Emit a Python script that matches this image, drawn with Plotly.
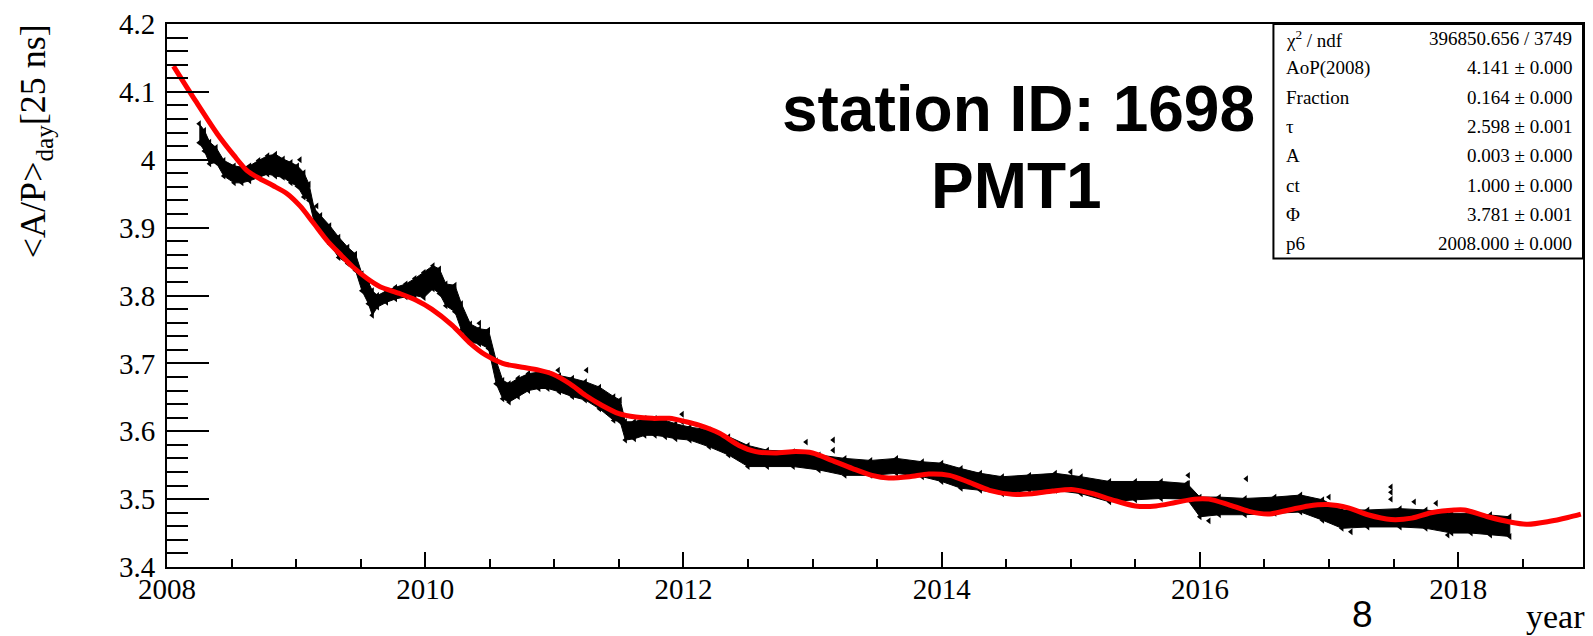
import plotly.graph_objects as go

# ---------------- data ----------------
# daily <A/P> band: sampled time (year) with lower / upper edge of the point cloud
t_band = [2008.25, 2008.29, 2008.33, 2008.38, 2008.44, 2008.52, 2008.58, 2008.64, 2008.71, 2008.78,
          2008.84, 2008.90, 2008.96, 2009.01, 2009.06, 2009.10, 2009.14, 2009.19, 2009.26, 2009.33,
          2009.40, 2009.46, 2009.51, 2009.56, 2009.59, 2009.63, 2009.70, 2009.77, 2009.85, 2009.92,
          2009.99, 2010.06, 2010.11, 2010.16, 2010.23, 2010.28, 2010.35, 2010.42, 2010.49, 2010.55,
          2010.60, 2010.65, 2010.72, 2010.80, 2010.88, 2010.95, 2011.04, 2011.14, 2011.24, 2011.35,
          2011.46, 2011.51, 2011.55, 2011.62, 2011.70, 2011.78, 2011.86, 2011.94, 2012.05, 2012.20,
          2012.35, 2012.50, 2012.65, 2012.85, 2013.05, 2013.25, 2013.45, 2013.65, 2013.85, 2014.00,
          2014.15, 2014.30, 2014.47, 2014.68, 2014.88, 2015.08, 2015.30, 2015.50, 2015.70, 2015.90,
          2016.00, 2016.15, 2016.35, 2016.58, 2016.78, 2016.95, 2017.10, 2017.30, 2017.55, 2017.75,
          2017.95, 2018.10, 2018.25, 2018.40]
ap_hi = [4.053, 4.043, 4.026, 4.018, 3.999, 3.991, 3.989, 3.991, 3.999, 4.006,
         4.008, 4.001, 3.996, 3.991, 3.981, 3.964, 3.928, 3.918, 3.903, 3.886,
         3.871, 3.861, 3.832, 3.820, 3.807, 3.800, 3.807, 3.812, 3.817, 3.825,
         3.834, 3.844, 3.839, 3.817, 3.815, 3.788, 3.758, 3.751, 3.749, 3.704,
         3.675, 3.670, 3.678, 3.685, 3.687, 3.685, 3.682, 3.678, 3.673, 3.665,
         3.651, 3.646, 3.614, 3.614, 3.619, 3.619, 3.616, 3.611, 3.606, 3.602,
         3.592, 3.579, 3.572, 3.570, 3.565, 3.560, 3.557, 3.560, 3.555, 3.553,
         3.545, 3.538, 3.533, 3.535, 3.538, 3.533, 3.526, 3.526, 3.526, 3.523,
         3.503, 3.503, 3.501, 3.503, 3.506, 3.499, 3.484, 3.484, 3.486, 3.484,
         3.479, 3.479, 3.477, 3.474]
ap_lo = [4.025, 4.013, 3.994, 3.996, 3.976, 3.966, 3.966, 3.969, 3.974, 3.979,
         3.976, 3.974, 3.966, 3.961, 3.945, 3.940, 3.908, 3.896, 3.876, 3.856,
         3.847, 3.837, 3.807, 3.788, 3.771, 3.783, 3.790, 3.795, 3.798, 3.800,
         3.797, 3.810, 3.803, 3.785, 3.776, 3.749, 3.731, 3.729, 3.722, 3.670,
         3.648, 3.643, 3.651, 3.660, 3.663, 3.663, 3.658, 3.651, 3.646, 3.633,
         3.616, 3.614, 3.587, 3.589, 3.594, 3.594, 3.592, 3.589, 3.587, 3.577,
         3.565, 3.548, 3.548, 3.548, 3.543, 3.535, 3.535, 3.538, 3.533, 3.526,
         3.516, 3.513, 3.508, 3.513, 3.513, 3.508, 3.496, 3.499, 3.501, 3.500,
         3.474, 3.477, 3.477, 3.479, 3.481, 3.469, 3.457, 3.459, 3.459, 3.457,
         3.450, 3.450, 3.447, 3.445]

# isolated daily values away from the main band
t_out = [2009.03, 2009.16, 2010.42, 2011.03, 2011.25, 2011.99, 2011.99, 2012.95, 2013.16, 2013.16,
         2015.00, 2015.91, 2015.91, 2016.36, 2017.00, 2017.48, 2017.48, 2017.48, 2017.66, 2017.83,
         2016.07, 2017.17, 2017.92]
ap_out = [4.000, 3.932, 3.759, 3.690, 3.690, 3.625, 3.614, 3.584, 3.587, 3.572,
          3.540, 3.535, 3.523, 3.530, 3.503, 3.518, 3.510, 3.500, 3.496, 3.494,
          3.468, 3.452, 3.447]

# fitted model curve
t_fit = [2008.05, 2008.22, 2008.39, 2008.52, 2008.62, 2008.72, 2008.82, 2008.93, 2009.03, 2009.13,
         2009.24, 2009.34, 2009.44, 2009.55, 2009.65, 2009.80, 2009.93, 2010.05, 2010.21, 2010.34,
         2010.47, 2010.60, 2010.73, 2010.88, 2010.99, 2011.12, 2011.24, 2011.37, 2011.50, 2011.63,
         2011.76, 2011.89, 2012.02, 2012.12, 2012.28, 2012.43, 2012.56, 2012.71, 2012.87, 2013.00,
         2013.15, 2013.31, 2013.46, 2013.59, 2013.75, 2013.90, 2014.06, 2014.21, 2014.37, 2014.55,
         2014.70, 2014.86, 2015.02, 2015.17, 2015.32, 2015.50, 2015.66, 2015.81, 2015.96, 2016.07,
         2016.22, 2016.38, 2016.53, 2016.69, 2016.84, 2016.99, 2017.15, 2017.30, 2017.48, 2017.64,
         2017.79, 2017.97, 2018.05, 2018.23, 2018.41, 2018.54, 2018.70, 2018.85, 2018.95]
ap_fit = [4.138, 4.087, 4.038, 4.006, 3.984, 3.972, 3.962, 3.950, 3.932, 3.908,
          3.881, 3.861, 3.842, 3.825, 3.813, 3.803, 3.793, 3.780, 3.756, 3.731,
          3.712, 3.700, 3.695, 3.690, 3.684, 3.670, 3.653, 3.638, 3.626, 3.621,
          3.619, 3.619, 3.614, 3.609, 3.597, 3.579, 3.570, 3.568, 3.570, 3.568,
          3.557, 3.545, 3.535, 3.531, 3.533, 3.537, 3.535, 3.525, 3.513, 3.507,
          3.508, 3.512, 3.514, 3.508, 3.499, 3.490, 3.490, 3.495, 3.500, 3.500,
          3.492, 3.482, 3.478, 3.484, 3.490, 3.492, 3.487, 3.477, 3.470, 3.472,
          3.480, 3.484, 3.484, 3.474, 3.466, 3.463, 3.467, 3.473, 3.478]

# fit statistics box
stat_names = ["χ<sup>2</sup> / ndf", "AoP(2008)", "Fraction", "τ", "A", "ct", "Φ", "p6"]
stat_values = ["396850.656 / 3749", "4.141 ± 0.000", "0.164 ± 0.000", "2.598 ± 0.001",
               "0.003 ± 0.000", "1.000 ± 0.000", "3.781 ± 0.001", "2008.000 ± 0.000"]

x_ticks = [2008, 2010, 2012, 2014, 2016, 2018]
y_ticks = [3.4, 3.5, 3.6, 3.7, 3.8, 3.9, 4.0, 4.1, 4.2]
y_tick_text = ["3.4", "3.5", "3.6", "3.7", "3.8", "3.9", "4", "4.1", "4.2"]

# ---------------- layout geometry (pixels) ----------------
W, H = 1593, 636
L, R, T, B = 167, 8, 23, 69
PW, PH = W - L - R, H - T - B


def px(x):
    return (x - L) / PW


def py(y):
    return (H - B - y) / PH


SERIF = "Liberation Serif, Times New Roman, serif"
SANS = "Liberation Sans, Arial, Helvetica, sans-serif"

fig = go.Figure()

# point cloud band
fig.add_trace(go.Scatter(
    x=t_band + t_band[::-1], y=ap_hi + ap_lo[::-1],
    mode="lines", fill="toself", fillcolor="black",
    line=dict(color="black", width=1), hoverinfo="skip", showlegend=False))
fig.add_trace(go.Scatter(
    x=t_band + t_band + t_out, y=ap_hi + ap_lo + ap_out,
    mode="markers", marker=dict(symbol="triangle-left", size=6, color="black"),
    showlegend=False))

# fit curve
fig.add_trace(go.Scatter(
    x=t_fit, y=ap_fit, mode="lines",
    line=dict(color="#ff0000", width=5, shape="spline", smoothing=0.8),
    showlegend=False))

axis_common = dict(showline=True, linecolor="black", linewidth=2, mirror=True,
                   showgrid=False, zeroline=False, ticks="inside", tickcolor="black",
                   tickwidth=1.5, tickfont=dict(family=SERIF, size=29, color="black"))

fig.update_xaxes(range=[2008, 2018.967], tickvals=x_ticks, ticklen=15,
                 minor=dict(dtick=0.5, tick0=2008, ticklen=8, ticks="inside",
                            tickcolor="black", tickwidth=1.5),
                 ticklabelstandoff=-5, **axis_common)
fig.update_yaxes(range=[3.4, 4.2], tickvals=y_ticks, ticktext=y_tick_text, ticklen=42,
                 minor=dict(dtick=0.02, tick0=3.4, ticklen=21, ticks="inside",
                            tickcolor="black", tickwidth=1.5),
                 ticklabelstandoff=4, **axis_common)

annotations = []

# axis titles
annotations.append(dict(
    text="&lt;A/P&gt;<sub>day</sub>[25 ns]", textangle=-90,
    x=px(35), y=py(21), xref="paper", yref="paper", xanchor="center", yanchor="top",
    showarrow=False, font=dict(family=SERIF, size=36, color="black")))
annotations.append(dict(
    text="year", x=px(1588), y=py(636), xref="paper", yref="paper",
    xanchor="right", yanchor="bottom", showarrow=False, borderpad=0,
    font=dict(family=SERIF, size=34, color="black")))
annotations.append(dict(
    text="8", x=px(1364), y=py(636), xref="paper", yref="paper",
    xanchor="center", yanchor="bottom", showarrow=False, borderpad=0,
    font=dict(family=SANS, size=37, color="black")))

# station label
annotations.append(dict(
    text="<b>station ID: 1698</b>", x=px(1020), y=py(108), xref="paper", yref="paper",
    xanchor="center", yanchor="middle", showarrow=False,
    font=dict(family=SANS, size=64, color="black")))
annotations.append(dict(
    text="<b>PMT1</b>", x=px(1018), y=py(185), xref="paper", yref="paper",
    xanchor="center", yanchor="middle", showarrow=False,
    font=dict(family=SANS, size=64, color="black")))

# statistics box contents
box_l, box_r, box_t, box_b = 1275, 1585, 23, 258
row_h = (box_b - box_t) / len(stat_names)
for i, (name, val) in enumerate(zip(stat_names, stat_values)):
    yc = box_t + row_h * (i + 0.5)
    annotations.append(dict(
        text=name, x=px(1286), y=py(yc), xref="paper", yref="paper",
        xanchor="left", yanchor="middle", showarrow=False,
        font=dict(family=SERIF, size=19, color="black")))
    annotations.append(dict(
        text=val, x=px(1576), y=py(yc), xref="paper", yref="paper",
        xanchor="right", yanchor="middle", showarrow=False,
        font=dict(family=SERIF, size=19, color="black")))

shapes = [
    dict(type="rect", xref="paper", yref="paper",
         x0=px(box_l), x1=px(box_r), y0=py(box_b), y1=py(box_t),
         line=dict(color="black", width=2), fillcolor="white", layer="above"),
]

fig.update_layout(
    width=W, height=H,
    margin=dict(l=L, r=R, t=T, b=B, pad=0),
    paper_bgcolor="white", plot_bgcolor="white",
    annotations=annotations, shapes=shapes, showlegend=False,
)

fig.write_html("out.html")
